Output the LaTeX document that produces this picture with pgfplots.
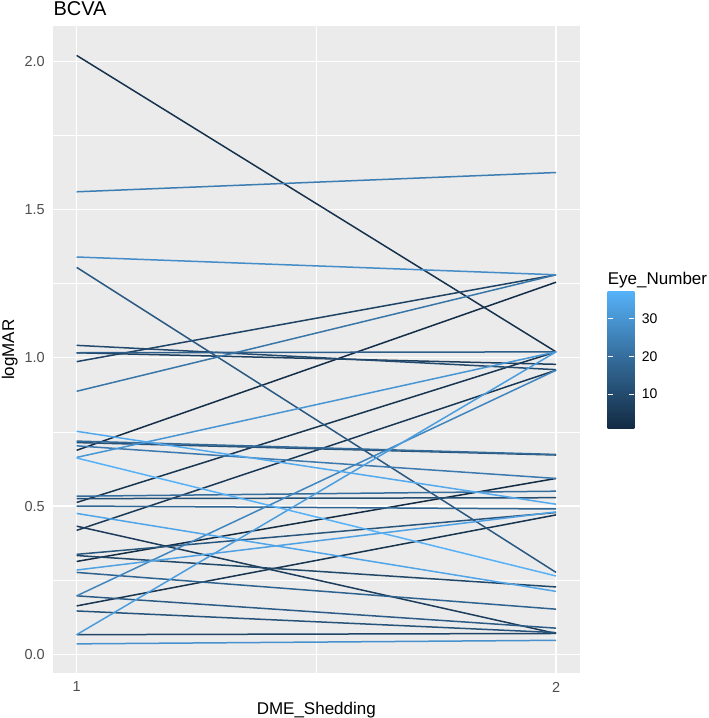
\documentclass[border=0pt]{standalone}
\usepackage{fontspec}
\setmainfont{Liberation Sans}
\usepackage{pgfplots}
\pgfplotsset{compat=1.18}
\definecolor{panelbg}{HTML}{EBEBEB}
\definecolor{tickgray}{HTML}{4D4D4D}
\definecolor{clo}{HTML}{132B43}
\definecolor{cmid}{HTML}{336A98}
\definecolor{chi}{HTML}{56B1F7}
\newcommand\ticksize{\fontsize{14.5bp}{17bp}\selectfont}
\newcommand\labsize{\fontsize{17bp}{20bp}\selectfont}
\newcommand\titlesize{\fontsize{20bp}{24bp}\selectfont}
\newcommand\legsize{\fontsize{14bp}{17bp}\selectfont}
\pgfplotsset{eye/.style={mesh, point meta=explicit, line width=1.5bp}}
\begin{document}
\begin{tikzpicture}
\useasboundingbox (0,0) rectangle (709bp,718bp);
\begin{axis}[
  at={(52.7bp,44.7bp)}, anchor=south west,
  scale only axis, width=527.3bp, height=647.3bp,
  xmin=0.95, xmax=2.05, ymin=-0.0643, ymax=2.1193,
  axis background/.style={fill=panelbg},
  axis line style={draw=none},
  xtick={1,2}, xticklabels={1,2},
  ytick={0,0.5,1,1.5,2}, yticklabels={0.0,0.5,1.0,1.5,2.0},
  minor xtick={1.5}, minor ytick={0.25,0.75,1.25,1.75},
  grid=both,
  major grid style={white, line width=1.3bp},
  minor grid style={white, line width=0.65bp},
  major tick length=0pt, minor tick length=0pt,
  tick label style={font=\ticksize, color=tickgray, inner sep=0pt},
  yticklabel style={xshift=-7.7bp},
  xticklabel style={yshift=-8.4bp},
  colormap={ggblue}{rgb255=(19,43,67) rgb255=(35,74,110) rgb255=(51,106,152) rgb255=(68,141,201) rgb255=(86,177,247)},
  point meta min=1, point meta max=37,
]
\addplot[eye] coordinates {(1,0.313) [1] (2,0.593) [1]};
\addplot[eye] coordinates {(1,0.688) [2] (2,1.255) [2]};
\addplot[eye] coordinates {(1,2.020) [3] (2,1.020) [3]};
\addplot[eye] coordinates {(1,0.163) [3.5] (2,0.470) [3.5]};
\addplot[eye] coordinates {(1,0.512) [4] (2,1.020) [4]};
\addplot[eye] coordinates {(1,0.418) [5] (2,0.958) [5]};
\addplot[eye] coordinates {(1,0.432) [6] (2,0.070) [6]};
\addplot[eye] coordinates {(1,1.017) [7] (2,0.978) [7]};
\addplot[eye] coordinates {(1,0.987) [8] (2,1.280) [8]};
\addplot[eye] coordinates {(1,0.066) [8.5] (2,0.070) [8.5]};
\addplot[eye] coordinates {(1,0.333) [9] (2,0.227) [9]};
\addplot[eye] coordinates {(1,1.042) [10] (2,0.960) [10]};
\addplot[eye] coordinates {(1,0.525) [11] (2,0.528) [11]};
\addplot[eye] coordinates {(1,0.714) [12] (2,0.672) [12]};
\addplot[eye] coordinates {(1,0.146) [12.5] (2,0.073) [12.5]};
\addplot[eye] coordinates {(1,0.337) [13] (2,0.478) [13]};
\addplot[eye] coordinates {(1,1.305) [14] (2,0.276) [14]};
\addplot[eye] coordinates {(1,0.197) [15] (2,0.088) [15]};
\addplot[eye] coordinates {(1,1.017) [16] (2,1.020) [16]};
\addplot[eye] coordinates {(1,0.276) [17] (2,0.152) [17]};
\addplot[eye] coordinates {(1,0.500) [18] (2,0.490) [18]};
\addplot[eye] coordinates {(1,0.719) [19] (2,0.674) [19]};
\addplot[eye] coordinates {(1,0.533) [20] (2,0.550) [20]};
\addplot[eye] coordinates {(1,0.887) [22] (2,1.280) [22]};
\addplot[eye] coordinates {(1,0.703) [23] (2,0.593) [23]};
\addplot[eye] coordinates {(1,1.560) [24] (2,1.625) [24]};
\addplot[eye] coordinates {(1,0.197) [26] (2,0.958) [26]};
\addplot[eye] coordinates {(1,1.340) [28] (2,1.280) [28]};
\addplot[eye] coordinates {(1,0.035) [29] (2,0.047) [29]};
\addplot[eye] coordinates {(1,0.664) [30] (2,1.020) [30]};
\addplot[eye] coordinates {(1,0.066) [32] (2,1.020) [32]};
\addplot[eye] coordinates {(1,0.284) [33] (2,0.480) [33]};
\addplot[eye] coordinates {(1,0.475) [34] (2,0.212) [34]};
\addplot[eye] coordinates {(1,0.752) [35] (2,0.506) [35]};
\addplot[eye] coordinates {(1,0.662) [37] (2,0.264) [37]};
\end{axis}
% titles
\node[anchor=base west, inner sep=0pt, font=\titlesize] at (53.3bp,702.3bp) {BCVA};
\node[anchor=base, inner sep=0pt, font=\labsize] at (316.3bp,4bp) {DME\_Shedding};
\node[anchor=base, rotate=90, inner sep=0pt, font=\labsize] at (14bp,368.3bp) {logMAR};
% colour bar legend
\node[anchor=base west, inner sep=0pt, font=\labsize] at (607.7bp,433bp) {Eye\_Number};
\shade[bottom color=clo, top color=chi, middle color=cmid] (607.7bp,289.7bp) rectangle (634.3bp,426.3bp);
\foreach \v in {10,20,30}{
  \pgfmathsetmacro\yy{289.7+(\v-1)*3.7944}
  \draw[white, line width=0.8bp] (607.7bp,\yy bp) -- ++(5.3bp,0);
  \draw[white, line width=0.8bp] (634.3bp,\yy bp) -- ++(-5.3bp,0);
  \node[anchor=west, inner sep=0pt, font=\legsize] at (641.7bp,\yy bp) {\v};
}
\end{tikzpicture}
\end{document}
